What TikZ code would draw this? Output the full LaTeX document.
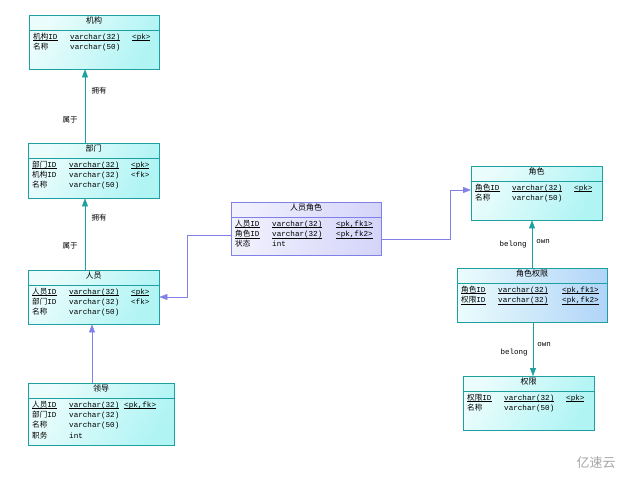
\documentclass[tikz,border=0pt]{standalone}
\usepackage{fontspec}
\setmainfont{Liberation Mono}
\newfontfamily\cjk{Noto Sans CJK SC}
\usetikzlibrary{arrows.meta}
\newcommand\zh[1]{{\cjk #1}}
\newsavebox\ulbox
\newcommand\ul[1]{\leavevmode\hbox{\sbox\ulbox{#1}\rlap{\rule[-1.4pt]{\wd\ulbox}{0.4pt}}\usebox\ulbox}}
\newcommand\fields[2]{\begin{tabular}{@{}p{37pt}@{}p{#1}@{}l@{}}#2\end{tabular}}
\definecolor{tealline}{HTML}{1FA0A0}
\definecolor{tealfill}{HTML}{B0F4F4}
\definecolor{purpline}{HTML}{8080E8}
\definecolor{purpfill}{HTML}{D4D4FA}
\definecolor{bluefill}{HTML}{B0D4F8}
\tikzset{
entity/.style={draw=tealline, left color=tealfill!25, right color=tealfill, shading angle=60, anchor=north west, inner sep=0pt},
title/.style={anchor=north, font=\fontsize{8}{9}\selectfont\cjk, inner sep=2pt},
rows/.style={anchor=north west, inner sep=0pt, font=\fontsize{7.6}{10.5}\selectfont, align=left},
rel/.style={draw=tealline, -{Triangle[width=6pt,length=8pt]}},
relp/.style={draw=purpline, -{Triangle[width=6pt,length=8pt]}},
lbl/.style={font=\fontsize{7.5}{8}\selectfont, inner sep=1pt}
}
\renewcommand\arraystretch{0.98}
\begin{document}
\begin{tikzpicture}[x=1pt,y=-1pt]
    \useasboundingbox (0,0) rectangle (632,477);

                \node[entity, minimum width=130pt, minimum height=54pt] (jigou) at (29,15) {};
                \node[title] at (jigou.north) {机构};
                \draw[tealline] ([yshift=-15pt]jigou.north west) -- ([yshift=-15pt]jigou.north east);
                \node[rows] at ([shift={(4pt,-17pt)}]jigou.north west) {\fields{62pt}{\ul{\zh{机构}ID} & \ul{varchar(32)} & \ul{<pk>}\\ \zh{名称} & varchar(50) & }};

                \node[entity, minimum width=131pt, minimum height=55pt] (bumen) at (28,143) {};
                \node[title] at (bumen.north) {部门};
                \draw[tealline] ([yshift=-15pt]bumen.north west) -- ([yshift=-15pt]bumen.north east);
                \node[rows] at ([shift={(4pt,-17pt)}]bumen.north west) {\fields{62pt}{\ul{\zh{部门}ID} & \ul{varchar(32)} & \ul{<pk>}\\ \zh{机构}ID & varchar(32) & <fk>\\ \zh{名称} & varchar(50) & }};

                \node[entity, minimum width=131pt, minimum height=54pt] (renyuan) at (28,270) {};
                \node[title] at (renyuan.north) {人员};
                \draw[tealline] ([yshift=-15pt]renyuan.north west) -- ([yshift=-15pt]renyuan.north east);
                \node[rows] at ([shift={(4pt,-17pt)}]renyuan.north west) {\fields{62pt}{\ul{\zh{人员}ID} & \ul{varchar(32)} & \ul{<pk>}\\ \zh{部门}ID & varchar(32) & <fk>\\ \zh{名称} & varchar(50) & }};

                \node[entity, minimum width=146pt, minimum height=62pt] (lingdao) at (28,383) {};
                \node[title] at (lingdao.north) {领导};
                \draw[tealline] ([yshift=-15pt]lingdao.north west) -- ([yshift=-15pt]lingdao.north east);
                \node[rows] at ([shift={(4pt,-17pt)}]lingdao.north west) {\fields{55pt}{\ul{\zh{人员}ID} & \ul{varchar(32)} & \ul{<pk,fk>}\\ \zh{部门}ID & varchar(32) & \\ \zh{名称} & varchar(50) & \\ \zh{职务} & int & }};

                \node[entity, draw=purpline, left color=purpfill!30, right color=purpfill, minimum width=150pt, minimum height=53pt] (ryjs) at (231,202) {};
                \node[title] at (ryjs.north) {人员角色};
                \draw[purpline] ([yshift=-15pt]ryjs.north west) -- ([yshift=-15pt]ryjs.north east);
                \node[rows] at ([shift={(4pt,-17pt)}]ryjs.north west) {\fields{64pt}{\ul{\zh{人员}ID} & \ul{varchar(32)} & \ul{<pk,fk1>}\\ \ul{\zh{角色}ID} & \ul{varchar(32)} & \ul{<pk,fk2>}\\ \zh{状态} & int & }};

                \node[entity, minimum width=131pt, minimum height=54pt] (juese) at (471,166) {};
                \node[title] at (juese.north) {角色};
                \draw[tealline] ([yshift=-15pt]juese.north west) -- ([yshift=-15pt]juese.north east);
                \node[rows] at ([shift={(4pt,-17pt)}]juese.north west) {\fields{62pt}{\ul{\zh{角色}ID} & \ul{varchar(32)} & \ul{<pk>}\\ \zh{名称} & varchar(50) & }};

                \node[entity, right color=bluefill, minimum width=150pt, minimum height=54pt] (jsqx) at (457,268) {};
                \node[title] at (jsqx.north) {角色权限};
                \draw[tealline] ([yshift=-15pt]jsqx.north west) -- ([yshift=-15pt]jsqx.north east);
                \node[rows] at ([shift={(4pt,-17pt)}]jsqx.north west) {\fields{64pt}{\ul{\zh{角色}ID} & \ul{varchar(32)} & \ul{<pk,fk1>}\\ \ul{\zh{权限}ID} & \ul{varchar(32)} & \ul{<pk,fk2>}}};

                \node[entity, minimum width=131pt, minimum height=54pt] (quanxian) at (463,376) {};
                \node[title] at (quanxian.north) {权限};
                \draw[tealline] ([yshift=-15pt]quanxian.north west) -- ([yshift=-15pt]quanxian.north east);
                \node[rows] at ([shift={(4pt,-17pt)}]quanxian.north west) {\fields{62pt}{\ul{\zh{权限}ID} & \ul{varchar(32)} & \ul{<pk>}\\ \zh{名称} & varchar(50) & }};

                \coordinate (p1) at (187,235);
                \coordinate (p2) at (187,297);
                \coordinate (p3) at (450,239);
                \coordinate (p4) at (450,190);

                \draw[rel] (bumen.north -| 85,0) -- (jigou.south -| 85,0);
                \node[lbl, font=\fontsize{7.5}{8}\selectfont\cjk] at (99,91) {拥有};
                \node[lbl, font=\fontsize{7.5}{8}\selectfont\cjk] at (70,120) {属于};
                \draw[rel] (renyuan.north -| 85,0) -- (bumen.south -| 85,0);
                \node[lbl, font=\fontsize{7.5}{8}\selectfont\cjk] at (99,218) {拥有};
                \node[lbl, font=\fontsize{7.5}{8}\selectfont\cjk] at (70,246) {属于};
                \draw[relp] (lingdao.north -| 92,0) -- (renyuan.south -| 92,0);
                \draw[relp] (ryjs.west |- p1) -- (p1) -- (p2) -- (renyuan.east |- p2);
                \draw[relp] (ryjs.east |- p3) -- (p3) -- (p4) -- (juese.west |- p4);
                \draw[rel] (jsqx.north -| 532,0) -- (juese.south -| 532,0);
                \node[lbl] at (513,245) {belong};
                \node[lbl] at (543,242) {own};
                \draw[rel] (jsqx.south -| 533,0) -- (quanxian.north -| 533,0);
                \node[lbl] at (544,345) {own};
                \node[lbl] at (514,353) {belong};

                \node[text=gray!70, font=\fontsize{13}{14}\selectfont\cjk] (logo) at (596,463) {亿速云};

            \end{tikzpicture}
\end{document}
